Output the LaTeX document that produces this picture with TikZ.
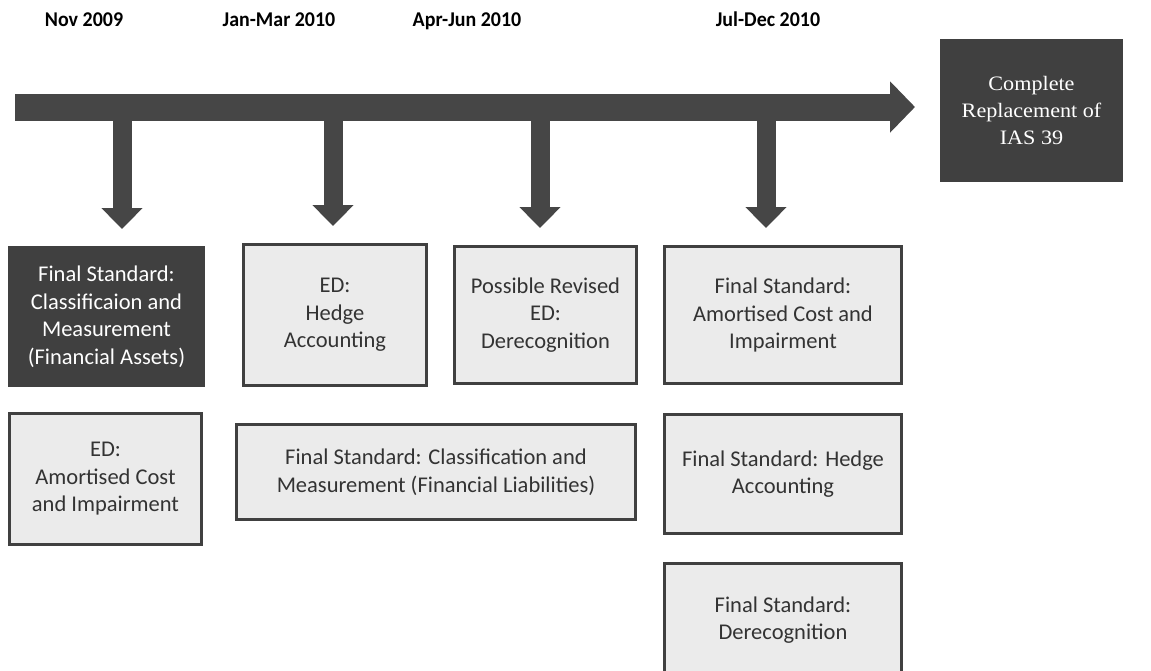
\documentclass[tikz,border=0pt]{standalone}
\usepackage{fontspec}
\setmainfont{Carlito}
\newfontfamily\periodface{Carlito}[FakeStretch=0.95]
\newfontfamily\serifface{Liberation Serif}[FakeStretch=1.08]
\usetikzlibrary{arrows.meta,positioning}
\definecolor{bardark}{HTML}{464646}
\definecolor{boxline}{HTML}{404040}
\definecolor{boxfill}{HTML}{EBEBEB}
\definecolor{boxtext}{HTML}{333333}

\begin{document}
\begin{tikzpicture}[x=1pt,y=-1pt]
	\tikzstyle{period}=[font=\periodface\fontsize{21}{24}\selectfont\bfseries, text=black, anchor=base]
	\tikzstyle{box}=[rectangle, draw=boxline, line width=3pt, fill=boxfill, text=boxtext, align=center, inner sep=2pt, font=\fontsize{22.5}{27.5}\selectfont]
	\tikzstyle{darkbox}=[box, fill=boxline, text=white]
	\tikzstyle{timeline}=[draw=bardark, line width=27pt, -{Triangle[length=25pt,width=50pt]}]
	\tikzstyle{drop}=[draw=bardark, line width=19pt, -{Triangle[length=21pt,width=40pt]}, shorten >=17pt]
	\useasboundingbox (0,0) rectangle (1151,670);
	% period labels
	\node[period] (nov) at (84,26) {Nov 2009};
	\node[period] (janmar) at (279,26) {Jan-Mar 2010};
	\node[period] (aprjun) at (467,26) {Apr-Jun 2010};
	\node[period] (juldec) at (768,26) {Jul-Dec 2010};
	% end box
	\node[darkbox, font=\serifface\fontsize{20.5}{27}\selectfont, minimum width=180pt, minimum height=140pt] (replace) at (1031.5,110.5) {Complete\\Replacement of\\IAS 39};
	% timeline
	\coordinate (tstart) at (15,107);
	\coordinate (tend) at (915,107);
	\coordinate (t1) at (122,107);
	\coordinate (t2) at (333,107);
	\coordinate (t3) at (540,107);
	\coordinate (t4) at (766,107);
	% boxes
	\node[darkbox, minimum width=194pt, minimum height=138pt] (fsca) at (106.5,316.5) {Final Standard:\\Classificaion and\\Measurement\\(Financial Assets)};
	\node[box, minimum width=183pt, minimum height=141pt] (edhedge) at (335,315) {ED:\\Hedge\\Accounting};
	\node[box, minimum width=182pt, minimum height=137pt] (edderec) at (545.5,315) {Possible Revised\\ED:\\Derecognition};
	\node[box, minimum width=237pt, minimum height=137pt] (fsacimp) at (783,315) {Final Standard:\\Amortised Cost and\\Impairment};
	\node[box, minimum width=192pt, minimum height=131pt] (edacimp) at (105.5,479) {ED:\\Amortised Cost\\and Impairment};
	\node[box, minimum width=399pt, minimum height=95pt] (fscmfl) at (436,472) {Final Standard: Classification and\\Measurement (Financial Liabilities)};
	\node[box, minimum width=237pt, minimum height=119pt] (fshedge) at (783,474) {Final Standard: Hedge\\Accounting};
	\node[box, minimum width=237pt, minimum height=113pt] (fsderec) at (783,620) {Final Standard:\\Derecognition};
	% arrows
	\path[timeline] (tstart) -- (tend);
	\path[drop] (t1) -- (t1 |- fsca.north);
	\path[drop] (t2) -- (t2 |- edhedge.north);
	\path[drop] (t3) -- (t3 |- edderec.north);
	\path[drop] (t4) -- (t4 |- fsacimp.north);
\end{tikzpicture}
\end{document}
